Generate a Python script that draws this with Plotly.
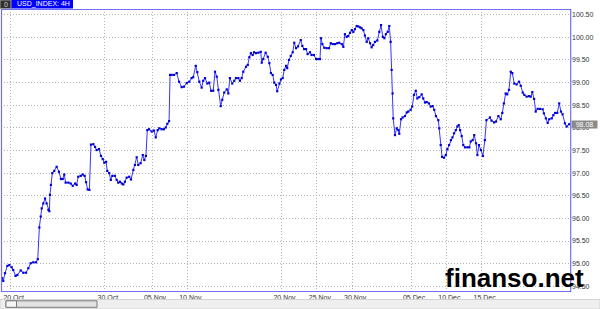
import plotly.graph_objects as go

# ---------------- data ----------------
bar_index = [
    -4.4, -3.8, -2.9, -1.7, -0.7, 0.5, 1.3, 2.5, 3.4, 5.1, 6.4, 7.8, 9.0, 10.2, 11.5, 12.9, 13.8,
    14.6, 15.3, 15.8, 16.6, 17.5, 18.3, 19.2, 19.7, 20.0, 20.5, 21.2, 22.2, 23.4, 24.6, 25.6, 26.5,
    27.3, 28.0, 29.4, 30.6, 31.6, 32.8, 33.6, 34.4, 35.7, 36.7, 37.7, 38.4, 39.2, 40.1, 40.9, 42.1,
    43.0, 43.8, 45.0, 46.0, 46.9, 47.7, 48.6, 49.2, 50.2, 51.0, 51.8, 53.1, 54.0, 54.8, 55.7, 56.6,
    57.4, 58.2, 59.1, 60.4, 61.3, 62.5, 63.3, 64.2, 65.0, 66.2, 67.3, 68.1, 68.9, 69.6, 70.5, 71.8,
    73.0, 73.9, 74.9, 75.7, 76.9, 78.1, 79.0, 79.8, 80.7, 81.2, 82.0, 83.2, 84.6, 85.8, 87.1, 88.3,
    89.7, 91.0, 92.2, 93.0, 94.3, 95.1, 96.1, 97.3, 98.1, 99.0, 100.2, 101.2, 102.1, 103.2, 104.1,
    105.0, 105.8, 107.0, 107.8, 108.8, 110.1, 110.9, 111.7, 112.9, 113.9, 114.8, 116.0, 116.8, 117.7,
    118.5, 119.9, 120.8, 121.6, 122.4, 123.3, 124.0, 125.0, 126.2, 127.4, 127.9, 128.7, 129.9, 131.0,
    131.8, 132.6, 133.5, 134.3, 135.2, 135.8, 136.9, 137.7, 138.6, 139.4, 140.3, 140.9, 141.8, 142.7,
    143.7, 144.5, 145.4, 146.4, 147.8, 148.6, 149.5, 150.5, 151.3, 152.5, 153.3, 154.5, 155.6, 156.7,
    157.6, 158.1, 158.8, 159.8, 161.0, 162.2, 163.1, 164.1, 165.3, 166.4, 167.4, 168.7, 169.5, 170.3,
    171.2, 172.0, 172.9, 173.8, 174.6, 175.4, 176.3, 177.1, 178.0, 178.8, 179.7, 180.5, 181.4, 182.2,
    183.1, 183.9, 184.7, 185.6, 186.8, 187.8, 188.7, 189.6, 190.4, 191.2, 192.1, 192.9, 193.6, 194.1,
    194.6, 194.9, 195.8, 196.7, 197.5, 198.0, 198.9, 199.7, 200.9, 201.8, 202.6, 203.8, 204.6, 205.5,
    206.4, 207.2, 208.2, 209.4, 210.2, 211.1, 212.0, 213.1, 214.0, 215.0, 215.8, 216.7, 217.9, 218.4,
    219.1, 219.8, 220.8, 221.7, 222.5, 223.4, 224.3, 225.1, 225.9, 226.8, 227.6, 228.3, 229.0, 229.8,
    230.6, 231.5, 232.7, 233.7, 234.4, 235.4, 236.2, 237.1, 237.8, 238.6, 239.6, 240.6, 241.6, 242.4,
    244.2, 245.0, 246.3, 247.3, 248.5, 249.7, 250.5, 251.3, 252.2, 253.0, 253.9, 254.8, 255.6, 256.6,
    257.8, 259.0, 259.9, 260.9, 261.7, 262.9, 264.1, 265.0, 265.8, 266.7, 267.5, 268.5, 269.7, 271.1,
    271.7, 272.7, 273.6, 274.4, 275.7, 276.5, 277.4, 278.5, 279.5, 280.4, 281.2, 282.4, 283.3, 284.5,
]
usd_index = [
    94.68, 94.62, 94.79, 94.95, 94.97, 94.92, 94.86, 94.73, 94.75, 94.85, 94.80, 94.80, 94.90, 95.01, 95.03, 95.03, 95.10,
    95.80, 96.04, 96.22, 96.33, 96.44, 96.33, 96.19, 96.16, 96.52, 96.74, 97.00, 97.05, 97.14, 97.03, 96.87, 96.87,
    96.97, 96.79, 96.79, 96.77, 96.72, 96.77, 96.74, 96.92, 96.94, 96.97, 96.94, 96.80, 96.64, 96.63, 97.63, 97.64,
    97.58, 97.51, 97.53, 97.38, 97.31, 97.23, 97.25, 97.05, 97.00, 96.85, 96.94, 96.94, 96.85, 96.79, 96.81, 96.77,
    96.75, 96.81, 96.90, 96.92, 96.86, 97.07, 97.18, 97.35, 97.18, 97.22, 97.40, 97.29, 97.38, 97.95, 97.97, 97.92,
    97.94, 97.79, 97.95, 97.99, 97.97, 97.97, 98.01, 98.09, 98.15, 99.17, 99.17, 99.17, 99.21, 99.02, 98.90, 98.91,
    98.99, 99.02, 99.10, 99.12, 99.37, 99.23, 99.02, 98.89, 99.04, 99.10, 98.98, 99.00, 98.82, 98.82, 99.24,
    99.13, 98.84, 98.48, 98.62, 98.78, 98.85, 98.76, 99.10, 98.98, 99.04, 99.10, 99.10, 99.04, 99.10,
    99.24, 99.35, 99.39, 99.56, 99.65, 99.61, 99.67, 99.65, 99.66, 99.68, 99.44, 99.52, 99.66, 99.57,
    99.43, 99.21, 99.17, 99.00, 98.95, 98.81, 98.98, 99.07, 99.10, 99.28, 99.37, 99.32, 99.50, 99.59,
    99.67, 99.88, 99.76, 99.80, 99.94, 99.81, 99.74, 99.74, 99.63, 99.67, 99.61, 99.61, 99.52, 99.52,
    99.52, 99.98, 99.85, 99.77, 99.76, 99.76, 99.87, 99.85, 99.85, 99.87, 99.88, 99.85, 99.79, 100.07,
    100.01, 100.03, 100.10, 100.16, 100.12, 100.18, 100.25, 100.24, 100.22, 100.20, 100.16, 100.04, 99.90, 99.98,
    99.87, 99.78, 99.83, 99.90, 99.93, 100.12, 100.27, 100.01, 99.98, 100.07, 100.12, 100.25, 99.90, 99.28,
    98.76, 98.21, 97.84, 97.99, 97.95, 97.87, 98.19, 98.23, 98.26, 98.34, 98.36, 98.40, 98.47, 98.73,
    98.82, 98.65, 98.68, 98.74, 98.65, 98.56, 98.57, 98.54, 98.47, 98.48, 98.40, 98.26, 98.17, 97.99,
    97.62, 97.36, 97.34, 97.40, 97.53, 97.62, 97.73, 97.79, 97.88, 97.95, 98.03, 98.06, 97.95, 97.82,
    97.62, 97.57, 97.57, 97.57, 97.70, 97.73, 97.84, 97.66, 97.40, 97.62, 97.51, 97.38, 97.73, 98.17,
    98.23, 98.16, 98.12, 98.14, 98.26, 98.19, 98.33, 98.54, 98.76, 98.74, 98.84, 99.24, 99.21, 98.98,
    98.96, 99.02, 98.93, 98.78, 98.73, 98.69, 98.70, 98.69, 98.79, 98.64, 98.36, 98.42, 98.42, 98.41,
    98.32, 98.21, 98.11, 98.19, 98.21, 98.28, 98.33, 98.33, 98.54, 98.36, 98.30, 98.10, 98.03, 98.08,
]
date_tick_bars = [0, 48, 72, 90, 138, 156, 174, 204, 222, 240]
date_tick_labels = ["20 Oct", "30 Oct", "05 Nov", "10 Nov", "20 Nov", "25 Nov",
                    "30 Nov", "05 Dec", "10 Dec", "15 Dec"]
price_ticks = [94.5, 95.0, 95.5, 96.0, 96.5, 97.0, 97.5, 98.0, 98.5, 99.0, 99.5, 100.0, 100.5]
price_tick_labels = ["94.50", "95.00", "95.50", "96.00", "96.50", "97.00", "97.50",
                     "98.00", "98.50", "99.00", "99.50", "100.00", "100.50"]
last_price = 98.08
chart_title = "USD_INDEX: 4H"
watermark = "finanso.net"

# ---------------- layout geometry ----------------
W, H = 600, 309
L, R, T, B = 1, 29, 9, 17
PW, PH = W - L - R, H - T - B


def px(x):
    return (x - L) / PW


def py(y):
    return (H - B - y) / PH


FONT = "Liberation Sans"
fig = go.Figure()
fig.add_trace(go.Scatter(
    x=bar_index, y=usd_index, mode="lines+markers",
    line=dict(color="#3535ff", width=1),
    marker=dict(color="#0000d8", size=2.2, symbol="square"),
    hoverinfo="skip", showlegend=False,
))

grid = dict(showgrid=True, gridcolor="#b4b4b4", griddash="1px,2px", gridwidth=1, zeroline=False)
fig.update_xaxes(
    range=[-4.94, 285.5], tickmode="array", tickvals=date_tick_bars, ticktext=date_tick_labels,
    tickfont=dict(family=FONT, size=7, color="#333333"), ticks="", ticklabelshift=3,
    showline=False, fixedrange=True, **grid,
)
fig.update_yaxes(
    range=[94.374, 100.626], side="right", tickmode="array", tickvals=price_ticks,
    ticktext=price_tick_labels, tickfont=dict(family=FONT, size=7, color="#333333"),
    ticks="", showline=False, fixedrange=True, **grid,
)

shapes = [
    # plot border
    dict(type="rect", xref="paper", yref="paper", x0=px(1.5), x1=px(570.7), y0=py(291.5), y1=py(9.5),
         line=dict(color="#6f6ff5", width=1.2), layer="above"),
    # title bar
    dict(type="rect", xref="paper", yref="paper", x0=px(11), x1=px(73), y0=py(8.5), y1=py(0),
         fillcolor="#0000ff", line=dict(width=0)),
    dict(type="rect", xref="paper", yref="paper", x0=px(0), x1=px(11), y0=py(8.5), y1=py(0),
         fillcolor="#303030", line=dict(color="#9a9a9a", width=1)),
    # scroll bar strip
    dict(type="rect", xref="paper", yref="paper", x0=px(0), x1=px(600), y0=py(309), y1=py(299.5),
         fillcolor="#efefef", line=dict(color="#d2d2d2", width=1)),
    dict(type="rect", xref="paper", yref="paper", x0=px(6), x1=px(97), y0=py(307.3), y1=py(300.8),
         fillcolor="#e2e2e2", line=dict(color="#7a7a7a", width=1)),
    dict(type="rect", xref="paper", yref="paper", x0=px(6), x1=px(16.5), y0=py(307.3), y1=py(300.8),
         fillcolor="#f6f6f6", line=dict(color="#7a7a7a", width=1)),
]

annotations = [
    dict(text=chart_title, xref="paper", yref="paper", x=px(15), y=py(4.3), xanchor="left",
         yanchor="middle", showarrow=False, font=dict(family=FONT, size=7, color="white")),
    dict(text="0", xref="paper", yref="paper", x=px(5.5), y=py(4.3), xanchor="center",
         yanchor="middle", showarrow=False, font=dict(family=FONT, size=7, color="#d0d0d0")),
    dict(text=f"{last_price:.2f}", xref="paper", yref="y", x=1, y=last_price, xanchor="left",
         yanchor="middle", showarrow=False, bgcolor="#8a8a8a", borderpad=0,
         font=dict(family=FONT, size=7, color="white"), width=25, align="center"),
    dict(text=f"<b>{watermark}</b>", xref="paper", yref="paper", x=px(443), y=py(277.5),
         xanchor="left", yanchor="middle", showarrow=False,
         font=dict(family=FONT, size=26, color="black")),
]

fig.update_layout(
    width=W, height=H, margin=dict(l=L, r=R, t=T, b=B, pad=0),
    paper_bgcolor="white", plot_bgcolor="white",
    shapes=shapes, annotations=annotations, showlegend=False,
)

fig.write_html("out.html", config={"displayModeBar": False})
